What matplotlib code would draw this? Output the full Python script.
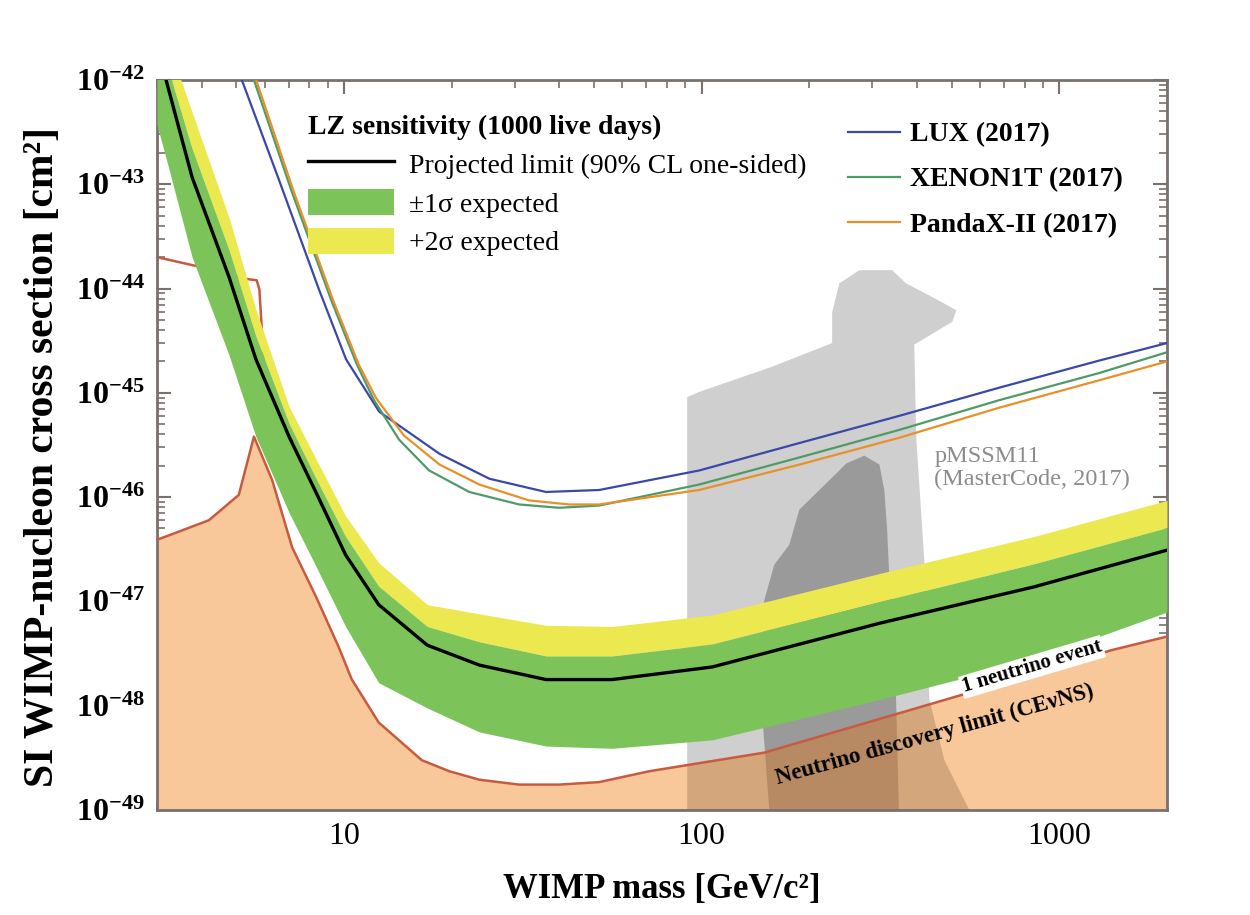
import matplotlib
matplotlib.use('Agg')
import matplotlib.pyplot as plt
from matplotlib.lines import Line2D
from matplotlib.patches import Patch

plt.rcParams['font.family'] = ['Liberation Serif', 'DejaVu Serif']
plt.rcParams['mathtext.fontset'] = 'custom'
plt.rcParams['mathtext.rm'] = 'Liberation Serif'
plt.rcParams['mathtext.bf'] = 'Liberation Serif:bold'

# neutrino discovery limit (CEvNS)
floor_mass = [3.0, 3.30, 4.19, 5.08, 5.60, 6.30, 7.16, 8.36, 9.68, 10.5, 12.5, 16.5, 19.7,
              23.9, 30.9, 39.9, 51.7, 71.3, 150, 505, 1396, 2000]
floor_xs = [3.9e-47, 4.4e-47, 6.0e-47, 1.05e-46, 3.8e-46, 1.45e-46, 3.3e-47, 1.1e-47, 3.6e-48,
            1.8e-48, 6.9e-49, 3.0e-49, 2.35e-49, 1.95e-49, 1.75e-49, 1.75e-49, 1.85e-49,
            2.35e-49, 3.55e-49, 1.2e-48, 3.4e-48, 4.6e-48]
floor_hi_mass = [3.0, 4.0, 5.2, 5.7, 5.8, 5.9, 6.0]
floor_hi_xs = [2.0e-44, 1.6e-44, 1.25e-44, 1.2e-44, 9.8e-45, 3.7e-45, 1.25e-45]

# LZ projected sensitivity
lz_mass = [3.0, 3.18, 3.76, 4.77, 5.67, 7.02, 8.36, 10.1, 12.5, 17.1, 23.9, 36.7, 56.2, 107,
           316, 851, 2000]
lz_median = [2.1e-42, 1.0e-42, 1.17e-43, 1.29e-44, 2.1e-45, 3.8e-46, 1.1e-46, 2.8e-47, 9.3e-48,
             3.8e-48, 2.45e-48, 1.78e-48, 1.78e-48, 2.35e-48, 6.2e-48, 1.38e-47, 3.1e-47]
lz_plus2 = [5.0e-42, 2.6e-42, 4.9e-43, 4.8e-44, 6.3e-45, 7.4e-46, 2.3e-46, 6.6e-47, 2.35e-47,
            9.3e-48, 7.6e-48, 5.9e-48, 5.75e-48, 7.4e-48, 1.86e-47, 4.2e-47, 9.3e-47]
lz_plus1 = [3.2e-42, 1.5e-42, 2.2e-43, 2.35e-44, 3.5e-45, 5.1e-46, 1.5e-46, 4.2e-47, 1.4e-47,
            5.75e-48, 4.1e-48, 3.0e-48, 3.0e-48, 3.9e-48, 1.0e-47, 2.3e-47, 5.1e-47]
lz_minus1 = [3.7e-43, 1.78e-43, 2.0e-44, 2.3e-45, 3.8e-46, 7.1e-47, 2.15e-47, 5.75e-48, 1.66e-48,
             9.5e-49, 5.6e-49, 4.1e-49, 3.9e-49, 4.7e-49, 1.15e-48, 2.75e-48, 7.9e-48]

# current limits
lux_mass = [5.0, 5.18, 6.58, 8.51, 10.13, 12.54, 18.5, 25.5, 36.7, 51.7, 98.4, 187.6, 356, 679,
            1294, 2000]
lux_xs = [1.4e-42, 1.0e-42, 1.1e-43, 9.8e-45, 2.1e-45, 6.6e-46, 2.6e-46, 1.5e-46, 1.12e-46,
          1.17e-46, 1.8e-46, 3.3e-46, 6.0e-46, 1.12e-45, 2.04e-45, 3.0e-45]
xe_mass = [5.4, 5.60, 7.11, 9.20, 10.87, 12.13, 14.26, 17.3, 22.4, 30.9, 39.9, 51.7, 98.4, 187.6,
           356, 679, 1294, 2000]
xe_xs = [1.5e-42, 1.0e-42, 8.9e-44, 7.8e-45, 1.86e-45, 8.5e-46, 3.55e-46, 1.8e-46, 1.12e-46,
         8.5e-47, 7.9e-47, 8.3e-47, 1.32e-46, 2.4e-46, 4.4e-46, 8.5e-46, 1.55e-45, 2.45e-45]
pandax_mass = [5.5, 5.68, 7.20, 9.31, 11.0, 12.29, 14.7, 18.5, 23.9, 32.9, 42.6, 51.7, 98.4,
               187.6, 356, 679, 1294, 2000]
pandax_xs = [1.5e-42, 1.0e-42, 8.9e-44, 7.8e-45, 1.86e-45, 8.9e-46, 3.9e-46, 2.05e-46, 1.32e-46,
             9.3e-47, 8.5e-47, 8.5e-47, 1.17e-46, 2.05e-46, 3.7e-46, 7.2e-46, 1.32e-45, 2.0e-45]

# pMSSM11 regions (MasterCode 2017)
pmssm_mass = [91.1, 91.1, 98.4, 157.4, 231.6, 231.6, 242.5, 276, 341, 373, 441, 515, 502, 393,
              398, 419, 433, 477, 560]
pmssm_xs = [1e-49, 9.1e-46, 1.02e-45, 1.78e-45, 3.0e-45, 5.9e-45, 1.12e-44, 1.5e-44, 1.5e-44,
            1.12e-44, 8.3e-45, 6.2e-45, 4.8e-45, 2.9e-45, 3.8e-46, 2.5e-47, 1.15e-48, 3.0e-49, 1e-49]
pmssm_core_mass = [253.6, 285, 314, 324, 330, 334, 345, 356, 154.5, 146.6, 149.6, 159.6, 175.8,
                   187.6, 213.4, 242.5]
pmssm_core_xs = [2.1e-46, 2.5e-46, 2.05e-46, 1.17e-46, 4.9e-47, 2.0e-47, 6.6e-48, 1e-49, 1e-49,
                 1.15e-48, 1.02e-47, 2.25e-47, 3.5e-47, 7.6e-47, 1.17e-46, 1.8e-46]

ytick_vals = [1e-49, 1e-48, 1e-47, 1e-46, 1e-45, 1e-44, 1e-43, 1e-42]
ytick_labels = [r'$\mathbf{10^{-%d}}$' % p for p in [49, 48, 47, 46, 45, 44, 43, 42]]
xtick_vals = [10, 100, 1000]
xtick_labels = ['10', '100', '1000']

axis_col = '#7a706c'
fig = plt.figure(figsize=(12.5, 9.15), dpi=100)
ax = fig.add_axes([0.1256, 0.1148, 0.808, 0.7978])
ax.set_xscale('log')
ax.set_yscale('log')
ax.set_xlim(3.0, 2000)
ax.set_ylim(1e-49, 1e-42)

# pMSSM11 blobs above the floor are grey, below it they tint the floor brown
ax.fill(pmssm_mass, pmssm_xs, color='#a0a0a0', alpha=0.5, lw=0, zorder=1)
ax.fill(pmssm_core_mass, pmssm_core_xs, color='#707070', alpha=0.55, lw=0, zorder=1)
floor = ax.fill_between(floor_mass, floor_xs, 1e-50, color='#f8c89a', lw=0, zorder=2)
floor_path = floor.get_paths()[0]
p1 = ax.fill(pmssm_mass, pmssm_xs, color='#d4a67c', lw=0, zorder=2.1)[0]
p2 = ax.fill(pmssm_core_mass, pmssm_core_xs, color='#b88a64', lw=0, zorder=2.2)[0]
for p in (p1, p2):
    p.set_clip_path(floor_path, transform=ax.transData)
ax.plot(floor_hi_mass, floor_hi_xs, color='#c85a40', lw=1.8, zorder=2.5)

ax.fill_between(lz_mass, lz_plus1, lz_plus2, color='#ece84f', lw=0, zorder=3)
ax.fill_between(lz_mass, lz_minus1, lz_plus1, color='#7cc45a', lw=0, zorder=3)
ax.plot(lz_mass, lz_median, color='black', lw=2.4, zorder=4)

ax.plot(floor_mass, floor_xs, color='#c85a40', lw=1.8, zorder=4)
ax.plot(lux_mass, lux_xs, color='#3a48a8', lw=1.6, zorder=5)
ax.plot(xe_mass, xe_xs, color='#4f9a68', lw=1.6, zorder=5)
ax.plot(pandax_mass, pandax_xs, color='#e8902a', lw=1.6, zorder=5)

ax.text(447, 1.9e-46, 'pMSSM11\n(MasterCode, 2017)', color='#8c8c8c', fontsize=17.5,
        ha='left', va='center', linespacing=1.15, zorder=6)
ax.text(839, 2.35e-48, '1 neutrino event', fontsize=15, fontweight='bold', rotation=16.5,
        ha='center', va='center', zorder=6,
        bbox=dict(facecolor='white', edgecolor='none', pad=1))
ax.text(447, 5.2e-49, 'Neutrino discovery limit (CEνNS)', fontsize=16.5, fontweight='bold',
        rotation=15.5, ha='center', va='center', zorder=6)

ax.set_yticks(ytick_vals)
ax.set_yticklabels(ytick_labels)
ax.set_xticks(xtick_vals)
ax.set_xticklabels(xtick_labels)
ax.tick_params(which='both', direction='in', top=True, right=True, color=axis_col)
ax.tick_params(which='major', length=10, width=1.5, labelsize=23, pad=9)
ax.tick_params(which='minor', length=5.5, width=1.2)
for s in ax.spines.values():
    s.set_color(axis_col)
    s.set_linewidth(2)

ax.set_xlabel('WIMP mass [GeV/c²]', fontsize=25, fontweight='bold')
ax.set_ylabel('SI WIMP-nucleon cross section [cm²]', fontsize=30, fontweight='bold')
ax.xaxis.set_label_coords(0.5, -0.086)
ax.yaxis.set_label_coords(-0.094, 0.484)

lz_handles = [Line2D([], [], color='black', lw=2.4),
              Patch(facecolor='#7cc45a', edgecolor='none'),
              Patch(facecolor='#ece84f', edgecolor='none')]
lz_labels = ['Projected limit (90% CL one-sided)', '±1σ expected', '+2σ expected']
leg1 = ax.legend(lz_handles, lz_labels, loc='upper left', bbox_to_anchor=(0.1356, 0.9712),
                 frameon=False, fontsize=20, handlelength=3.1, handleheight=1.1,
                 labelspacing=0.36, handletextpad=0.55, borderaxespad=0, borderpad=0.5,
                 title='LZ sensitivity (1000 live days)', alignment='left',
                 title_fontproperties={'weight': 'bold', 'size': 20})
ax.add_artist(leg1)
exp_handles = [Line2D([], [], color='#3a48a8', lw=1.6),
               Line2D([], [], color='#4f9a68', lw=1.6),
               Line2D([], [], color='#e8902a', lw=1.6)]
ax.legend(exp_handles, ['LUX (2017)', 'XENON1T (2017)', 'PandaX-II (2017)'],
          loc='upper left', bbox_to_anchor=(0.684, 0.9425), frameon=False,
          prop={'weight': 'bold', 'size': 20}, handlelength=1.87, labelspacing=0.71,
          handletextpad=0.36, borderaxespad=0, borderpad=0)

fig.savefig('out.png', dpi=100)
